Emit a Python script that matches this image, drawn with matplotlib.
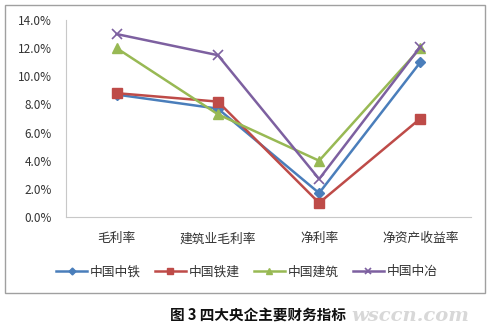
import matplotlib
matplotlib.use("Agg")
import matplotlib.pyplot as plt
from matplotlib.patches import Rectangle
from matplotlib.ticker import FuncFormatter

plt.rcParams['font.family'] = ['Noto Sans CJK SC', 'DejaVu Sans']

categories = ['毛利率', '建筑业毛利率', '净利率', '净资产收益率']
series_names = ['中国中铁', '中国铁建', '中国建筑', '中国中冶']
crec = [8.7, 7.7, 1.7, 11.0]
crcc = [8.8, 8.2, 1.0, 7.0]
cscec = [12.0, 7.3, 4.0, 12.0]
mcc = [13.0, 11.5, 2.7, 12.1]
yticks = [0, 2, 4, 6, 8, 10, 12, 14]

colors = ['#4A7EBB', '#BE4B48', '#98B954', '#7D60A0']
markers = ['D', 's', '^', 'x']
msizes = [5, 7, 7, 7]

fig = plt.figure(figsize=(4.91, 3.33), dpi=100)
fig.patches.append(Rectangle((0.010, 0.120), 0.978, 0.865, transform=fig.transFigure,
                             fill=False, edgecolor='#A0A0A0', linewidth=1.0))

ax = fig.add_axes([66/491, 1-217/333, (471-66)/491, (217-20)/333])
x = list(range(len(categories)))
for vals, name, c, m, ms in zip([crec, crcc, cscec, mcc], series_names, colors, markers, msizes):
    ax.plot(x, vals, color=c, marker=m, markersize=ms, linewidth=1.8, label=name,
            markeredgewidth=1.0 if m != 'x' else 1.2, clip_on=False)

ax.set_xlim(-0.5, len(categories) - 0.5)
ax.set_ylim(0, 14)
ax.set_yticks(yticks)
ax.yaxis.set_major_formatter(FuncFormatter(lambda v, p: f'{v:.1f}%'))
ax.set_xticks(x)
ax.set_xticklabels(categories)
for s in ['top', 'right']:
    ax.spines[s].set_visible(False)
ax.spines['left'].set_color('#C8C8C8')
ax.spines['bottom'].set_color('#C8C8C8')
ax.tick_params(axis='both', length=0, colors='#333333')
ax.tick_params(axis='y', pad=10, labelsize=8.5)
ax.tick_params(axis='x', pad=11, labelsize=9.2)

handles, labels = ax.get_legend_handles_labels()
fig.legend(handles, labels, loc='center', bbox_to_anchor=(247/491, 1-272/333), ncol=4,
           frameon=False, fontsize=9.2, handlelength=2.4, columnspacing=1.1, handletextpad=0.25,
           markerscale=0.7, labelcolor='#333333')

fig.text(258/491, 1-316/333, '图 3 四大央企主要财务指标', ha='center', va='center',
         fontsize=10.5, fontweight='bold', color='#111111')
fig.text(410/491, 1-316/333, 'wsccn.com', ha='center', va='center', fontsize=14,
         fontweight='bold', style='italic', family='DejaVu Serif', color='#D8D8D8', zorder=-1)

fig.savefig('out.png', dpi=100)
